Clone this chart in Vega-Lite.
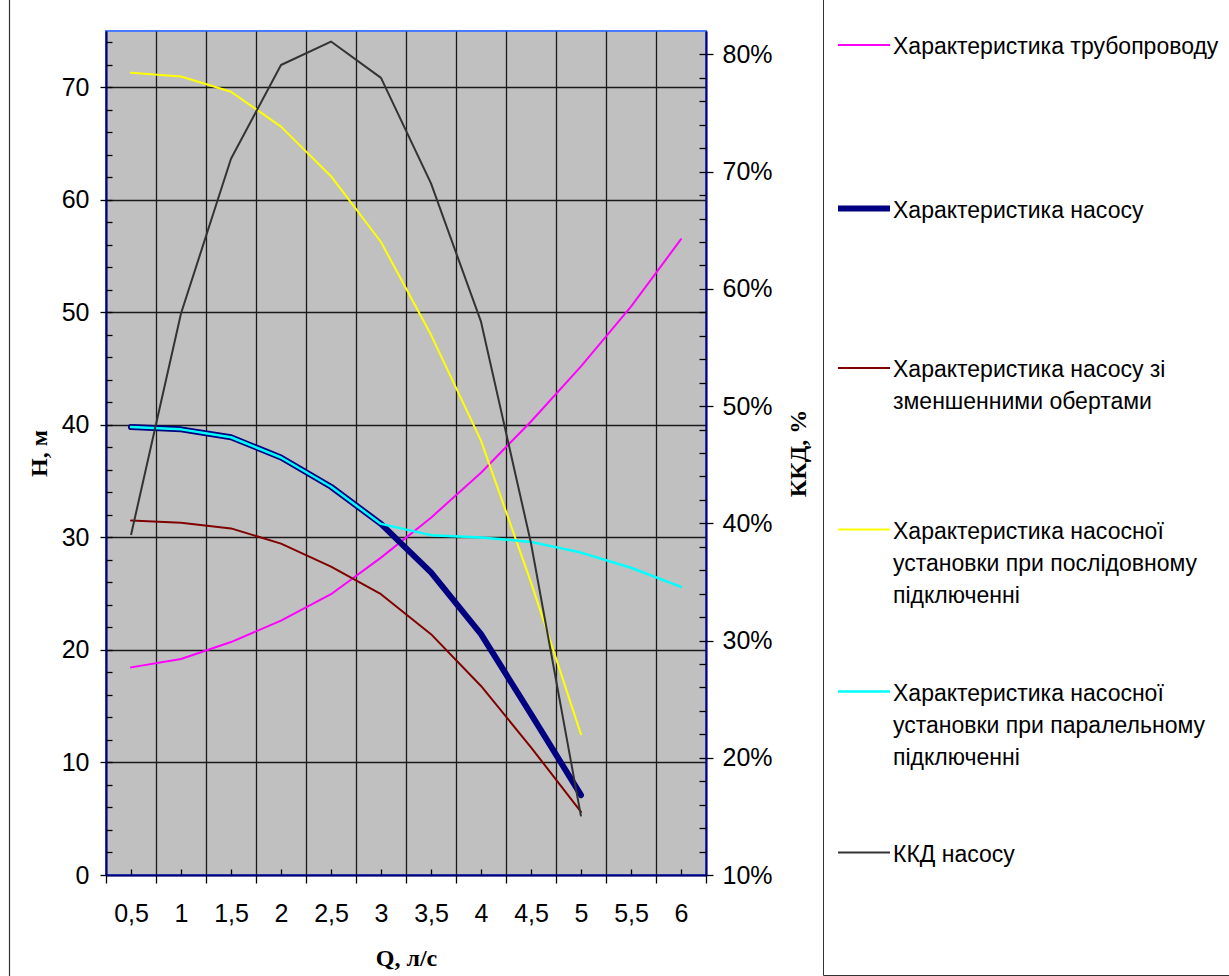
{
  "$schema": "https://vega.github.io/schema/vega-lite/v6.json",
  "width": 600,
  "height": 844,
  "autosize": {"type": "none"},
  "padding": {"left": 106, "top": 31, "right": 523, "bottom": 101},
  "background": "white",
  "config": {
    "view": {"fill": "#C0C0C0", "stroke": "#4a7aff", "strokeWidth": 2},
    "axis": {
      "labelFont": "Liberation Sans",
      "labelFontSize": 25,
      "labelColor": "#000000",
      "titleFont": "Liberation Serif",
      "titleFontSize": 24,
      "titleFontWeight": "bold",
      "titleColor": "#000000",
      "tickColor": "#000000",
      "tickWidth": 1.3,
      "domainColor": "#000080",
      "domainWidth": 2,
      "gridColor": "#1a1a1a",
      "gridWidth": 1.3,
      "gridOpacity": 1
    },
    "legend": {
      "labelFont": "Liberation Sans",
      "labelFontSize": 23,
      "labelColor": "#000000"
    }
  },
  "datasets": {
    "h": [
      {"Q": 0.5, "series": "Характеристика трубопроводу", "H": 18.45},
      {"Q": 1.0, "series": "Характеристика трубопроводу", "H": 19.2},
      {"Q": 1.5, "series": "Характеристика трубопроводу", "H": 20.7},
      {"Q": 2.0, "series": "Характеристика трубопроводу", "H": 22.6},
      {"Q": 2.5, "series": "Характеристика трубопроводу", "H": 24.95},
      {"Q": 3.0, "series": "Характеристика трубопроводу", "H": 28.2},
      {"Q": 3.5, "series": "Характеристика трубопроводу", "H": 31.75},
      {"Q": 4.0, "series": "Характеристика трубопроводу", "H": 35.75},
      {"Q": 4.5, "series": "Характеристика трубопроводу", "H": 40.3},
      {"Q": 5.0, "series": "Характеристика трубопроводу", "H": 45.2},
      {"Q": 5.5, "series": "Характеристика трубопроводу", "H": 50.5},
      {"Q": 6.0, "series": "Характеристика трубопроводу", "H": 56.5},
      {"Q": 0.5, "series": "Характеристика насосу", "H": 39.8},
      {"Q": 1.0, "series": "Характеристика насосу", "H": 39.6},
      {"Q": 1.5, "series": "Характеристика насосу", "H": 38.9},
      {"Q": 2.0, "series": "Характеристика насосу", "H": 37.1},
      {"Q": 2.5, "series": "Характеристика насосу", "H": 34.5},
      {"Q": 3.0, "series": "Характеристика насосу", "H": 31.2},
      {"Q": 3.5, "series": "Характеристика насосу", "H": 26.9},
      {"Q": 4.0, "series": "Характеристика насосу", "H": 21.4},
      {"Q": 4.5, "series": "Характеристика насосу", "H": 14.3},
      {"Q": 5.0, "series": "Характеристика насосу", "H": 7.1},
      {"Q": 0.5, "series": "Характеристика насосу зі зменшенними обертами", "H": 31.5},
      {"Q": 1.0, "series": "Характеристика насосу зі зменшенними обертами", "H": 31.3},
      {"Q": 1.5, "series": "Характеристика насосу зі зменшенними обертами", "H": 30.8},
      {"Q": 2.0, "series": "Характеристика насосу зі зменшенними обертами", "H": 29.45},
      {"Q": 2.5, "series": "Характеристика насосу зі зменшенними обертами", "H": 27.4},
      {"Q": 3.0, "series": "Характеристика насосу зі зменшенними обертами", "H": 24.95},
      {"Q": 3.5, "series": "Характеристика насосу зі зменшенними обертами", "H": 21.4},
      {"Q": 4.0, "series": "Характеристика насосу зі зменшенними обертами", "H": 16.8},
      {"Q": 4.5, "series": "Характеристика насосу зі зменшенними обертами", "H": 11.35},
      {"Q": 5.0, "series": "Характеристика насосу зі зменшенними обертами", "H": 5.6},
      {"Q": 0.5, "series": "Характеристика насосної установки при послідовному підключенні", "H": 71.3},
      {"Q": 1.0, "series": "Характеристика насосної установки при послідовному підключенні", "H": 70.95},
      {"Q": 1.5, "series": "Характеристика насосної установки при послідовному підключенні", "H": 69.6},
      {"Q": 2.0, "series": "Характеристика насосної установки при послідовному підключенні", "H": 66.5},
      {"Q": 2.5, "series": "Характеристика насосної установки при послідовному підключенні", "H": 62.1},
      {"Q": 3.0, "series": "Характеристика насосної установки при послідовному підключенні", "H": 56.25},
      {"Q": 3.5, "series": "Характеристика насосної установки при послідовному підключенні", "H": 48.0},
      {"Q": 4.0, "series": "Характеристика насосної установки при послідовному підключенні", "H": 38.6},
      {"Q": 4.5, "series": "Характеристика насосної установки при послідовному підключенні", "H": 26.0},
      {"Q": 5.0, "series": "Характеристика насосної установки при послідовному підключенні", "H": 12.5},
      {"Q": 0.5, "series": "Характеристика насосної установки при паралельному підключенні", "H": 39.8},
      {"Q": 1.0, "series": "Характеристика насосної установки при паралельному підключенні", "H": 39.6},
      {"Q": 1.5, "series": "Характеристика насосної установки при паралельному підключенні", "H": 38.9},
      {"Q": 2.0, "series": "Характеристика насосної установки при паралельному підключенні", "H": 37.1},
      {"Q": 2.5, "series": "Характеристика насосної установки при паралельному підключенні", "H": 34.5},
      {"Q": 3.0, "series": "Характеристика насосної установки при паралельному підключенні", "H": 31.2},
      {"Q": 3.5, "series": "Характеристика насосної установки при паралельному підключенні", "H": 30.2},
      {"Q": 4.0, "series": "Характеристика насосної установки при паралельному підключенні", "H": 30.0},
      {"Q": 4.5, "series": "Характеристика насосної установки при паралельному підключенні", "H": 29.6},
      {"Q": 5.0, "series": "Характеристика насосної установки при паралельному підключенні", "H": 28.65},
      {"Q": 5.5, "series": "Характеристика насосної установки при паралельному підключенні", "H": 27.3},
      {"Q": 6.0, "series": "Характеристика насосної установки при паралельному підключенні", "H": 25.6}
    ],
    "eff": [
      {"Q": 0.5, "series": "ККД насосу", "eff": 0.39},
      {"Q": 1.0, "series": "ККД насосу", "eff": 0.579},
      {"Q": 1.5, "series": "ККД насосу", "eff": 0.711},
      {"Q": 2.0, "series": "ККД насосу", "eff": 0.791},
      {"Q": 2.5, "series": "ККД насосу", "eff": 0.811},
      {"Q": 3.0, "series": "ККД насосу", "eff": 0.78},
      {"Q": 3.5, "series": "ККД насосу", "eff": 0.69},
      {"Q": 4.0, "series": "ККД насосу", "eff": 0.572},
      {"Q": 4.5, "series": "ККД насосу", "eff": 0.383},
      {"Q": 5.0, "series": "ККД насосу", "eff": 0.15}
    ]
  },
  "layer": [
    {
      "data": {"name": "h"},
      "mark": {"type": "line", "strokeJoin": "round", "strokeCap": "round"},
      "encoding": {
        "x": {
          "field": "Q", "type": "quantitative",
          "scale": {"domain": [0.25, 6.25], "nice": false, "zero": false},
          "axis": {
            "orient": "bottom",
            "values": [0.5, 1, 1.5, 2, 2.5, 3, 3.5, 4, 4.5, 5, 5.5, 6],
            "labelExpr": "replace(format(datum.value, '.1~f'), '.', ',')",
            "tickSize": -6,
            "labelPadding": 32,
            "grid": false,
            "title": "Q, л/с",
            "titlePadding": 20
          }
        },
        "y": {
          "field": "H", "type": "quantitative",
          "scale": {"domain": [0, 75], "nice": false, "zero": false},
          "axis": {
            "orient": "left",
            "values": [0, 10, 20, 30, 40, 50, 60, 70],
            "tickSize": 6,
            "labelPadding": 11,
            "grid": true,
            "title": "H, м",
            "titlePadding": 10
          }
        },
        "color": {
          "field": "series", "type": "nominal",
          "scale": {
            "domain": ["Характеристика трубопроводу", "Характеристика насосу", "Характеристика насосу зі зменшенними обертами", "Характеристика насосної установки при послідовному підключенні", "Характеристика насосної установки при паралельному підключенні", "ККД насосу"],
            "range": ["#FF00FF", "#000080", "#800000", "#FFFF00", "#00FFFF", "#333333"]
          },
          "legend": {
            "orient": "none",
            "legendX": 717,
            "legendY": -51,
            "title": "\u00a0",
            "titleFontSize": 20,
            "titlePadding": 6,
            "padding": 12,
            "strokeColor": "#333333",
            "fillColor": "#ffffff",
            "symbolType": "stroke",
            "symbolSize": 2704,
            "labelOffset": 0,
            "labelLimit": 500,
            "labelBaseline": "top",
            "gridAlign": "all",
            "rowPadding": 24.5,
            "labelExpr": "datum.label == 'Характеристика насосу зі зменшенними обертами' ? ['Характеристика насосу зі', 'зменшенними обертами'] : datum.label == 'Характеристика насосної установки при послідовному підключенні' ? ['Характеристика насосної', 'установки при послідовному', 'підключенні'] : datum.label == 'Характеристика насосної установки при паралельному підключенні' ? ['Характеристика насосної', 'установки при паралельному', 'підключенні'] : datum.label == 'ККД насосу' ? ['ККД насосу', '', '', ''] : datum.label",
            "encode": {"labels": {"update": {"dy": {"value": -9}, "lineHeight": {"value": 32}}}}
          }
        },
        "strokeWidth": {
          "field": "series", "type": "nominal",
          "scale": {
            "type": "ordinal",
            "domain": ["Характеристика трубопроводу", "Характеристика насосу", "Характеристика насосу зі зменшенними обертами", "Характеристика насосної установки при послідовному підключенні", "Характеристика насосної установки при паралельному підключенні", "ККД насосу"],
            "range": [2, 6, 2, 2, 2.5, 2]
          },
          "legend": {
            "orient": "none",
            "legendX": 717,
            "legendY": -51,
            "title": "\u00a0"
          }
        }
      }
    },
    {
      "data": {"name": "eff"},
      "mark": {"type": "line", "strokeWidth": 2, "strokeJoin": "round"},
      "encoding": {
        "x": {
          "field": "Q", "type": "quantitative",
          "scale": {"domain": [0.25, 6.25], "nice": false, "zero": false},
          "axis": null
        },
        "y": {
          "field": "eff", "type": "quantitative",
          "scale": {"domain": [0.1, 0.82], "nice": false, "zero": false},
          "axis": {
            "orient": "right",
            "values": [0.1, 0.2, 0.3, 0.4, 0.5, 0.6, 0.7, 0.8],
            "format": ".0%",
            "tickSize": 7,
            "labelPadding": 9,
            "grid": false,
            "title": "ККД, %",
            "titleAngle": -90,
            "titlePadding": 38
          }
        },
        "color": {"field": "series", "type": "nominal"}
      }
    },
    {
      "data": {"name": "h"},
      "mark": {"type": "line", "opacity": 0},
      "encoding": {
        "x": {
          "field": "Q", "type": "quantitative",
          "scale": {"domain": [0.25, 6.25], "nice": false, "zero": false},
          "axis": {
            "orient": "bottom",
            "values": [0.25, 0.75, 1.25, 1.75, 2.25, 2.75, 3.25, 3.75, 4.25, 4.75, 5.25, 5.75, 6.25],
            "tickSize": 8,
            "labels": false,
            "domain": false,
            "grid": true,
            "title": null
          }
        },
        "y": {
          "field": "H", "type": "quantitative",
          "scale": {"domain": [0, 75], "nice": false, "zero": false},
          "axis": {
            "orient": "left",
            "values": [2, 4, 6, 8, 10, 12, 14, 16, 18, 20, 22, 24, 26, 28, 30, 32, 34, 36, 38, 40, 42, 44, 46, 48, 50, 52, 54, 56, 58, 60, 62, 64, 66, 68, 70, 72, 74],
            "tickSize": -6,
            "labels": false,
            "domain": false,
            "grid": false,
            "title": null
          }
        }
      }
    },
    {
      "data": {"name": "eff"},
      "mark": {"type": "line", "opacity": 0},
      "encoding": {
        "x": {
          "field": "Q", "type": "quantitative",
          "scale": {"domain": [0.25, 6.25], "nice": false, "zero": false},
          "axis": null
        },
        "y": {
          "field": "eff", "type": "quantitative",
          "scale": {"domain": [0.1, 0.82], "nice": false, "zero": false},
          "axis": {
            "orient": "right",
            "values": [0.12, 0.14, 0.16, 0.18, 0.2, 0.22, 0.24, 0.26, 0.28, 0.3, 0.32, 0.34, 0.36, 0.38, 0.4, 0.42, 0.44, 0.46, 0.48, 0.5, 0.52, 0.54, 0.56, 0.58, 0.6, 0.62, 0.64, 0.66, 0.68, 0.7, 0.72, 0.74, 0.76, 0.78, 0.8],
            "tickSize": -7,
            "labels": false,
            "domain": false,
            "grid": false,
            "title": null
          }
        }
      }
    },
    {
      "data": {"name": "h"},
      "mark": {"type": "line", "opacity": 0},
      "encoding": {
        "x": {
          "field": "Q", "type": "quantitative",
          "scale": {"domain": [0.25, 6.25], "nice": false, "zero": false},
          "axis": null
        },
        "y": {
          "field": "H", "type": "quantitative",
          "scale": {"domain": [0, 75], "nice": false, "zero": false, "range": [950, -35]},
          "axis": {
            "orient": "left",
            "offset": 97,
            "ticks": false,
            "labels": false,
            "grid": false,
            "domain": true,
            "domainColor": "#333333",
            "domainWidth": 1.2,
            "title": null
          }
        }
      }
    }
  ],
  "resolve": {"scale": {"x": "independent", "y": "independent"}}
}
